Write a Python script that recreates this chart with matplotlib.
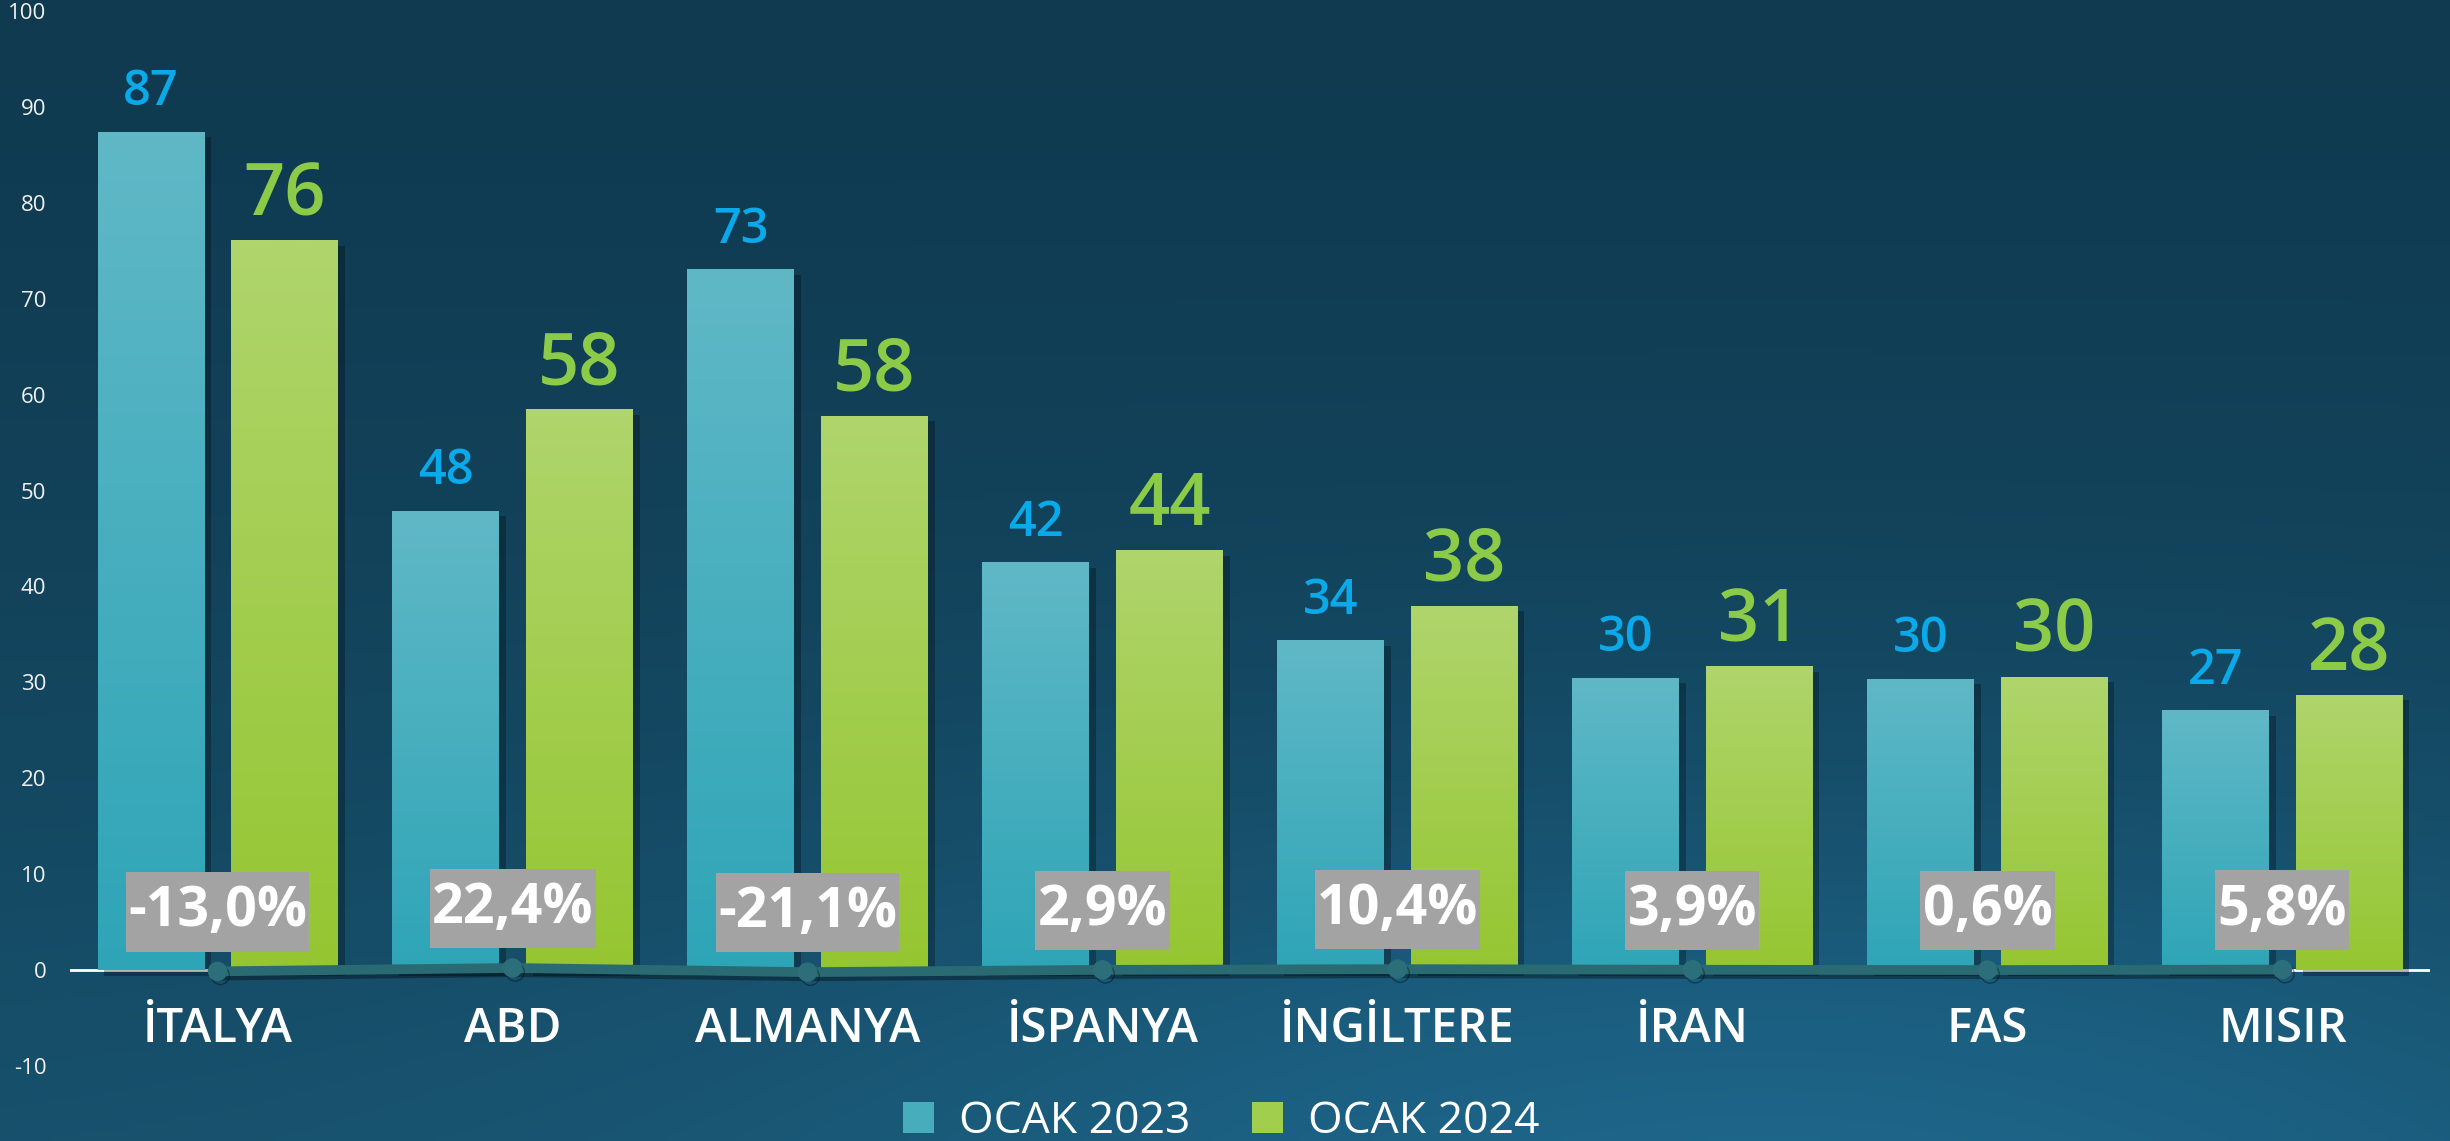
import numpy as np
import matplotlib
matplotlib.use("Agg")
import matplotlib.pyplot as plt
import matplotlib.patheffects as pe
from matplotlib.colors import LinearSegmentedColormap, to_rgb
from matplotlib.patches import Patch
from matplotlib.path import Path

plt.rcParams['font.family'] = ['Open Sans', 'DejaVu Sans']

# ---------------- data ----------------
categories = ['İTALYA', 'ABD', 'ALMANYA', 'İSPANYA', 'İNGİLTERE', 'İRAN', 'FAS', 'MISIR']
ocak_2023 = [87.4, 47.9, 73.1, 42.5, 34.4, 30.5, 30.4, 27.1]
ocak_2024 = [76.1, 58.5, 57.8, 43.8, 38.0, 31.7, 30.6, 28.7]
labels_2023 = ['87', '48', '73', '42', '34', '30', '30', '27']
labels_2024 = ['76', '58', '58', '44', '38', '31', '30', '28']
change_pct = [-13.0, 22.4, -21.1, 2.9, 10.4, 3.9, 0.6, 5.8]
y_ticks = list(range(-10, 101, 10))
series_names = ['OCAK 2023', 'OCAK 2024']

# ---------------- style ----------------
c23_top, c23_bot = '#60b8c6', '#2ea5b7'
c24_top, c24_bot = '#afd56c', '#95c631'
lbl23, lbl24 = '#0aa9e9', '#8ccb48'
line_col = '#2a6b73'
box_col = '#a3a3a3'


def wide_box(x0, y0, width, height, mutation_size):
    padx = 0.04 * mutation_size
    pady = 0.22 * mutation_size
    xa, xb = x0 - padx, x0 + width + padx
    ya, yb = y0 - pady, y0 + height + pady
    return Path([(xa, ya), (xb, ya), (xb, yb), (xa, yb), (xa, ya)], closed=True)


fig = plt.figure(figsize=(24.5, 11.41), dpi=100)

# background gradient
bg = fig.add_axes([0, 0, 1, 1], zorder=-10)
bg.axis('off')
H, W = 300, 640
yy, xx = np.mgrid[0:1:H * 1j, 0:1:W * 1j]
top = np.array(to_rgb('#0f3a50'))
bottom = np.array(to_rgb('#17506b'))
img = top + (bottom - top) * (yy[..., None] ** 1.3)
glow = np.exp(-(((xx - 0.72) / 0.40) ** 2 + ((yy - 1.08) / 0.35) ** 2))
img = img + glow[..., None] * (np.array(to_rgb('#2275a0')) - img) * 0.6
bg.imshow(np.clip(img, 0, 1), extent=[0, 1, 0, 1], aspect='auto')
bg.set_xlim(0, 1)
bg.set_ylim(0, 1)

ax = fig.add_axes([0.0286, 0.0657, 0.9632, 0.9247])
ax.patch.set_alpha(0)

x = np.arange(len(categories))
bw = 0.36
off = 0.227

bars23 = ax.bar(x - off, ocak_2023, bw, color=c23_bot, zorder=3)
bars24 = ax.bar(x + off, ocak_2024, bw, color=c24_bot, zorder=3)

shadow = [pe.SimplePatchShadow(offset=(5, -4), shadow_rgbFace='black', alpha=0.28), pe.Normal()]
for bars, ctop, cbot in [(bars23, c23_top, c23_bot), (bars24, c24_top, c24_bot)]:
    cmap = LinearSegmentedColormap.from_list('g', [cbot, ctop])
    grad = np.linspace(0, 1, 256).reshape(-1, 1)
    for b in bars:
        b.set_path_effects(shadow)
        x0, y0, w, h = b.get_x(), b.get_y(), b.get_width(), b.get_height()
        im = ax.imshow(grad, extent=[x0, x0 + w, y0, y0 + h], origin='lower',
                       cmap=cmap, aspect='auto', zorder=3.5, interpolation='bilinear')
        im.set_clip_path(b)

ax.set_xlim(-0.5, len(categories) - 0.5)
ax.set_ylim(-10, 100)

# zero line
ax.axhline(0, color='white', lw=2, zorder=2)

# change line (percent scaled onto value axis)
line_vals = [p / 100 for p in change_pct]
ax.plot(x, line_vals, color=line_col, lw=7, marker='o', ms=13,
        mfc='#2c6f7b', mec='#2c6f7b', zorder=5, solid_capstyle='round',
        path_effects=[pe.SimpleLineShadow(offset=(2, -3), shadow_color='black', alpha=0.35), pe.Normal()])

# value labels
for xi, v, t in zip(x - off, ocak_2023, labels_2023):
    ax.annotate(t, (xi, v), xytext=(0, 19), textcoords='offset points', ha='center',
                va='baseline', color=lbl23, fontsize=35, fontweight='semibold', zorder=6)
for xi, v, t in zip(x + off, ocak_2024, labels_2024):
    ax.annotate(t, (xi, v), xytext=(0, 18), textcoords='offset points', ha='center',
                va='baseline', color=lbl24, fontsize=52, fontweight='semibold', zorder=6)

# percentage boxes
for xi, lv, p in zip(x, line_vals, change_pct):
    txt = f"{p:.1f}%".replace('.', ',')
    ax.text(xi, lv + 6.2, txt, ha='center', va='center', color='white', fontsize=40,
            fontweight='bold', zorder=7,
            bbox=dict(boxstyle=wide_box, fc=box_col, ec='none'))

# category labels
for xi, c in zip(x, categories):
    ax.text(xi, -6.2, c, ha='center', va='center', color='white', fontsize=34,
            fontweight='semibold', zorder=6)

ax.set_yticks(y_ticks)
ax.set_yticklabels([str(t) for t in y_ticks], color='#f0f0f0', fontsize=16)
ax.tick_params(axis='y', length=0, pad=17)
ax.tick_params(axis='x', length=0, labelbottom=False)
for s in ax.spines.values():
    s.set_visible(False)

handles = [Patch(facecolor='#47adbd', edgecolor='none'), Patch(facecolor='#a2ce4e', edgecolor='none')]
fig.legend(handles, series_names, loc='center', bbox_to_anchor=(0.4985, 0.017), ncol=2,
           frameon=False, fontsize=32, labelcolor='white', handlelength=0.7, handleheight=0.7,
           handletextpad=0.55, columnspacing=1.4)

fig.savefig('out.png', dpi=100)
